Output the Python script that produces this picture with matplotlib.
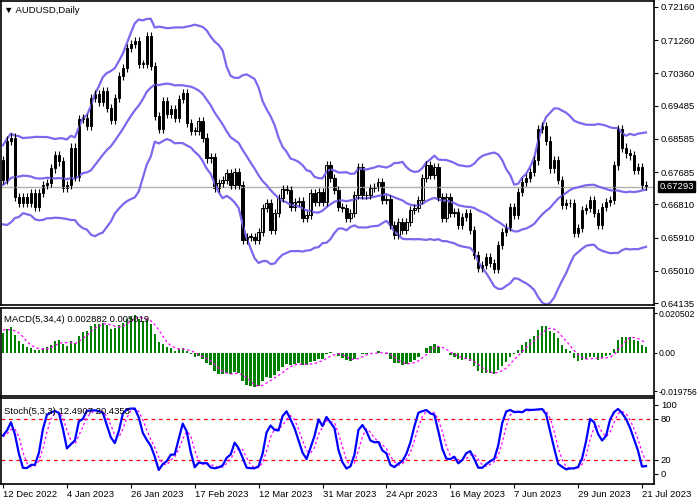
import numpy as np
import pandas as pd
import matplotlib
matplotlib.use('Agg')
import matplotlib.pyplot as plt

plt.rcParams['font.family'] = ['Liberation Sans', 'DejaVu Sans']

close_px = [180, 140, 137, 197, 203, 197, 203, 193, 207, 193,
            185, 183, 168, 155, 161, 188, 185, 147, 177, 118,
            117, 125, 97, 93, 101, 90, 107, 119, 97, 75,
            67, 47, 43, 40, 63, 63, 35, 65, 115, 128,
            100, 113, 108, 117, 98, 92, 122, 130, 130, 120,
            137, 158, 157, 188, 183, 180, 173, 185, 172, 185,
            240, 237, 237, 240, 232, 208, 203, 230, 213, 198,
            189, 190, 207, 202, 201, 218, 215, 193, 202, 192,
            202, 165, 178, 190, 207, 208, 218, 213, 195, 167,
            195, 195, 188, 187, 182, 200, 199, 225, 235, 222,
            230, 222, 210, 208, 200, 178, 165, 175, 167, 197,
            218, 197, 213, 212, 225, 217, 213, 230, 255, 268,
            265, 257, 263, 269, 245, 232, 227, 207, 215, 192,
            182, 178, 172, 160, 128, 125, 140, 168, 160, 180,
            205, 203, 203, 233, 228, 210, 208, 200, 213, 225,
            207, 202, 200, 165, 128, 147, 153, 155, 170, 167,
            185, 186]
first_open_px = 160

# closes before the visible window, used to warm up the indicators
history = [0.6440, 0.6420, 0.6400, 0.6390, 0.6370, 0.6350, 0.6300, 0.6280,
           0.6380, 0.6450, 0.6470, 0.6650, 0.6700, 0.6700, 0.6720, 0.6690,
           0.6650, 0.6640, 0.6670, 0.6650, 0.6700, 0.6740, 0.6760, 0.6740,
           0.6720, 0.6700, 0.6800, 0.6830, 0.6780, 0.6740, 0.6780, 0.6760,
           0.6800, 0.6780]

date_labels = ['12 Dec 2022', '4 Jan 2023', '26 Jan 2023', '17 Feb 2023',
               '12 Mar 2023', '31 Mar 2023', '24 Apr 2023', '16 May 2023',
               '7 Jun 2023', '29 Jun 2023', '21 Jul 2023']
price_ticks = [0.72160, 0.71260, 0.70360, 0.69485, 0.68585, 0.67685,
               0.66810, 0.65910, 0.65010, 0.64135]
last_price = 0.67293
wick = 0.0011
fs = 6.8


def px_to_price(y):
    return 0.72160 - (y - 6) * 0.0002702


closes = np.array([px_to_price(y) for y in close_px])
opens = np.concatenate([[px_to_price(first_open_px)], closes[:-1]])
highs = np.maximum(opens, closes) + wick
lows = np.minimum(opens, closes) - wick

n_hist = len(history)
all_c = pd.Series(list(history) + list(closes))
all_h = pd.Series(list(np.array(history) + wick) + list(highs))
all_l = pd.Series(list(np.array(history) - wick) + list(lows))

mid = all_c.rolling(20).mean()
sd = all_c.rolling(20).std(ddof=0)
upper, lower = mid + 2 * sd, mid - 2 * sd

macd = all_c.ewm(span=5, adjust=False).mean() - all_c.ewm(span=34, adjust=False).mean()
signal = macd.rolling(4).mean()

hh = all_h.rolling(5).max()
ll = all_l.rolling(5).min()
k = 100 * (all_c - ll).rolling(3).sum() / (hh - ll).rolling(3).sum()
d = k.rolling(3).mean()

sl = slice(n_hist, None)
mid, upper, lower = mid[sl].values, upper[sl].values, lower[sl].values
macd, signal, k, d = macd[sl].values, signal[sl].values, k[sl].values, d[sl].values
x = np.arange(len(closes))

W, H = 700, 500
fig = plt.figure(figsize=(7, 5), dpi=100)


def box(l, t, r, b):
    return [l / W, 1 - b / H, (r - l) / W, (b - t) / H]


ax1 = fig.add_axes(box(1, 1, 654, 305))
ax2 = fig.add_axes(box(1, 308, 654, 396))
ax3 = fig.add_axes(box(1, 398, 654, 484))
xlim = (-0.5, 163)
band_c = '#7b68ee'

# main pane
ax1.axhline(last_price, color='#b0b0b0', lw=1)
for b in (upper, mid, lower):
    ax1.plot(x, b, color=band_c, lw=1.6)
ax1.vlines(x, lows, highs, color='black', lw=0.8)
up = closes >= opens
body = np.abs(closes - opens)
body = np.where(body < 0.0002, 0.0002, body)
ax1.bar(x[up], body[up], bottom=np.minimum(opens, closes)[up], width=0.6,
        color='white', edgecolor='black', lw=0.7)
ax1.bar(x[~up], body[~up], bottom=np.minimum(opens, closes)[~up], width=0.6,
        color='black', edgecolor='black', lw=0.7)
ax1.set_ylim(0.64081, 0.72322)
ax1.set_yticks(price_ticks)
ax1.set_yticklabels(['%.5f' % p for p in price_ticks])
ax1.text(0.005, 0.985, '\u25bc AUDUSD,Daily', transform=ax1.transAxes,
         fontsize=fs, va='top', ha='left')
ax1.text(1.008, (last_price - 0.64081) / (0.72322 - 0.64081), '%.5f' % last_price,
         transform=ax1.transAxes, fontsize=fs, color='white', va='center',
         ha='left', bbox=dict(boxstyle='square,pad=0.12', fc='black', ec='black'))

# MACD pane
ax2.bar(x, macd, width=0.6, color='green')
ax2.plot(x, signal, color='magenta', lw=0.9, ls=(0, (2, 2)))
ax2.set_ylim(-0.0222, 0.0232)
ax2.set_yticks([0.020502, 0.0, -0.019756])
ax2.set_yticklabels(['0.020502', '0.00', '-0.019756'])
ax2.text(0.005, 0.92, 'MACD(5,34,4) 0.002882 0.005019', transform=ax2.transAxes,
         fontsize=fs, va='top', ha='left')

# Stochastic pane
ax3.axhline(80, color='red', lw=0.9, ls=(0, (3, 3)))
ax3.axhline(20, color='red', lw=0.9, ls=(0, (3, 3)))
ax3.plot(x, d, color='magenta', lw=0.9, ls=(0, (2, 2)))
ax3.plot(x, k, color='blue', lw=1.6)
ax3.set_ylim(-15, 110)
ax3.set_yticks([100, 80, 20, 0])
ax3.text(0.005, 0.9, 'Stoch(5,3,3) 12.4907 20.4353', transform=ax3.transAxes,
         fontsize=fs, va='top', ha='left')
ax3.set_xticks(np.arange(0, 161, 16))
ax3.set_xticklabels(date_labels, ha='left')

for ax in (ax1, ax2, ax3):
    ax.set_xlim(*xlim)
    ax.yaxis.tick_right()
    ax.tick_params(axis='y', labelsize=fs, length=3, pad=2)
    ax.tick_params(axis='x', labelsize=fs, length=3, pad=1)
    for s in ax.spines.values():
        s.set_linewidth(1.2)
ax2.tick_params(axis='y', labelsize=6.2, length=2, pad=1)
for ax in (ax1, ax2):
    ax.set_xticks([])

fig.savefig('out.png', dpi=100)
